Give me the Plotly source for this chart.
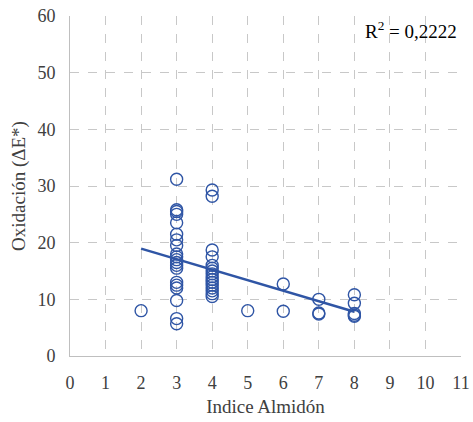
import numpy as np
import plotly.graph_objects as go

indice = [2,
          3,3,3,3,3,3,3,3,3,3,3,3,3,3,3,3,3,3,3,3,
          4,4,4,4,4,4,4,4,4,4,4,4,4,4,4,4,
          5, 6,6, 7,7,7, 8,8,8,8,8]
oxidacion = [8.0,
             31.2,25.8,25.5,25.0,23.5,21.5,20.5,19.5,18.0,17.5,17.0,16.5,16.0,15.5,13.0,12.5,12.0,9.8,6.6,5.7,
             29.3,28.2,18.7,17.5,16.0,15.5,15.0,14.5,14.0,13.5,13.0,12.5,12.0,11.5,11.0,10.5,
             8.0, 12.7,7.9, 10.0,7.6,7.4, 10.8,9.3,7.5,7.2,7.0]
r2_text = "R<sup>2</sup> = 0,2222"

slope, intercept = np.polyfit(indice, oxidacion, 1)
trend_x = [min(indice), max(indice)]
trend_y = [slope * x + intercept for x in trend_x]

color = "#2F55A5"
font = "Liberation Serif, DejaVu Serif, serif"

fig = go.Figure()
fig.add_trace(go.Scatter(x=indice, y=oxidacion, mode="markers",
                         marker=dict(symbol="circle-open", size=12, color=color, line=dict(width=1.4, color=color)),
                         showlegend=False, cliponaxis=False))
fig.add_trace(go.Scatter(x=trend_x, y=trend_y, mode="lines",
                         line=dict(color=color, width=2.5), showlegend=False))

fig.add_annotation(x=1, y=1, xref="paper", yref="paper", xanchor="right", yanchor="top",
                   xshift=-2, yshift=0, text=r2_text, showarrow=False,
                   font=dict(family=font, size=19, color="#000"))

axis_common = dict(showgrid=True, gridcolor="#C8C8C8", griddash="dash", gridwidth=1,
                   zeroline=False, showline=True, linecolor="#BFBFBF", linewidth=1,
                   ticks="", automargin=False, ticklabelstandoff=10,
                   tickfont=dict(family=font, size=18, color="#404040"))
fig.update_xaxes(range=[0, 11], dtick=1, tick0=0,
                 title=dict(text="Indice Almidón", font=dict(family=font, size=19, color="#404040"), standoff=8),
                 **axis_common)
fig.update_yaxes(range=[0, 60], dtick=10, tick0=0,
                 title=dict(text="Oxidación (ΔE*)", font=dict(family=font, size=19, color="#404040"), standoff=6),
                 **axis_common)
fig.update_layout(width=473, height=422, margin=dict(l=70, r=12, t=16, b=66, autoexpand=False),
                  plot_bgcolor="white", paper_bgcolor="white")
fig.write_html("out.html")
